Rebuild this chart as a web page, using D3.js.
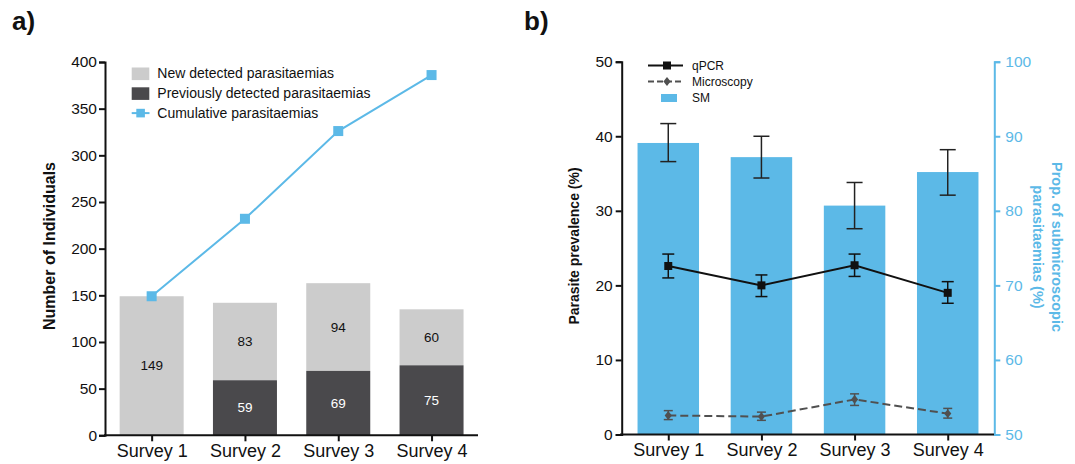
<!DOCTYPE html>
<html><head><meta charset="utf-8">
<script src="https://cdn.jsdelivr.net/npm/d3@7"></script>
<style>body{margin:0;background:#fff}svg{display:block;font-family:"Liberation Sans",Arial,sans-serif}</style>
</head><body>
<svg id="c" width="1075" height="464"></svg>
<script>
// ---- Data ----
const categories = ["Survey 1","Survey 2","Survey 3","Survey 4"];
// Panel a
const newDetected = [149, 83, 94, 60];
const prevDetected = [0, 59, 69, 75];
const cumulative = [149, 232, 326, 386];
const ticksA = [0,50,100,150,200,250,300,350,400];
// Panel b
const smValues = [89.1, 87.2, 80.7, 85.2];
const smLow = [86.6, 84.4, 77.6, 82.1];
const smHigh = [91.7, 90.0, 83.8, 88.2];
const qpcr = [22.6, 20.0, 22.7, 19.0];
const qpcrLow = [21.0, 18.5, 21.2, 17.6];
const qpcrHigh = [24.2, 21.4, 24.2, 20.5];
const micro = [2.55, 2.4, 4.7, 2.8];
const microLow = [2.0, 1.9, 3.9, 2.2];
const microHigh = [3.2, 3.0, 5.45, 3.5];
const ticksL = [0,10,20,30,40,50];
const ticksR = [50,60,70,80,90,100];

const BLUE = "#5cb9e7", LGRAY = "#cccccc", DGRAY = "#4a494c", MGRAY = "#505050";
const FONT = "Liberation Sans, Arial, sans-serif";
const svg = d3.select("#c");

const diamond = { draw(ctx, size) { const w = 3.6, h = 4.4; ctx.moveTo(0,-h); ctx.lineTo(w,0); ctx.lineTo(0,h); ctx.lineTo(-w,0); ctx.closePath(); } };

// ================= Panel a =================
const xA = d3.scalePoint().domain(categories).range([105, 478.2]).padding(0.5);
const yA = d3.scaleLinear().domain([0, 400]).range([435.3, 62]);
const bwA = xA.step() * 0.686;
const gA = svg.append("g");

gA.selectAll("rect.new").data(categories).join("rect")
  .attr("x", d => xA(d) - bwA/2).attr("width", bwA)
  .attr("y", (d,i) => yA(prevDetected[i] + newDetected[i]))
  .attr("height", (d,i) => yA(prevDetected[i]) - yA(prevDetected[i] + newDetected[i]))
  .attr("fill", LGRAY);
gA.selectAll("rect.prev").data(categories).join("rect")
  .attr("x", d => xA(d) - bwA/2).attr("width", bwA)
  .attr("y", (d,i) => yA(prevDetected[i]))
  .attr("height", (d,i) => yA(0) - yA(prevDetected[i]))
  .attr("fill", DGRAY);

categories.forEach((c,i) => {
  gA.append("text").attr("x", xA(c)).attr("y", yA(prevDetected[i] + newDetected[i]/2)).attr("dy","0.35em")
    .attr("text-anchor","middle").attr("font-size",13.5).attr("fill","#111").text(newDetected[i]);
  if (prevDetected[i] > 0)
    gA.append("text").attr("x", xA(c)).attr("y", yA(prevDetected[i]/2)).attr("dy","0.35em")
      .attr("text-anchor","middle").attr("font-size",13.5).attr("fill","#fff").text(prevDetected[i]);
});

gA.append("path").datum(cumulative)
  .attr("d", d3.line().x((d,i) => xA(categories[i])).y(d => yA(d)))
  .attr("fill","none").attr("stroke", BLUE).attr("stroke-width", 2);
gA.selectAll("rect.cum").data(cumulative).join("rect")
  .attr("x",(d,i)=>xA(categories[i])-5).attr("y",d=>yA(d)-5).attr("width",10).attr("height",10).attr("fill",BLUE);

const axA = gA.append("g").attr("transform","translate(105,0)")
  .call(d3.axisLeft(yA).tickValues(ticksA).tickSize(6).tickPadding(2));
const axAx = gA.append("g").attr("transform",`translate(0,${yA(0)})`)
  .call(d3.axisBottom(xA).tickSize(6).tickPadding(3));
[axA, axAx].forEach(a => {
  a.select(".domain").attr("stroke","#111").attr("stroke-width",2);
  a.selectAll(".tick line").attr("stroke","#111").attr("stroke-width",2);
  a.selectAll("text").attr("fill","#111").attr("font-family",FONT);
});
axA.selectAll("text").attr("font-size",15.5);
axAx.selectAll("text").attr("font-size",18);
axAx.select(".domain").attr("d","M104,0H478");

gA.append("text").attr("transform","translate(55,246) rotate(-90)").attr("text-anchor","middle")
  .attr("font-size",16).attr("font-weight","bold").attr("fill","#111").text("Number of Individuals");

const legA = [["New detected parasitaemias","box",LGRAY],["Previously detected parasitaemias","box",DGRAY],["Cumulative parasitaemias","line",BLUE]];
legA.forEach((l,i) => {
  const y = 73.5 + i*19.8;
  if (l[1]==="box") gA.append("rect").attr("x",131.7).attr("y",y-6).attr("width",17.6).attr("height",12.6).attr("fill",l[2]);
  else {
    gA.append("line").attr("x1",131.7).attr("x2",149.5).attr("y1",y).attr("y2",y).attr("stroke",l[2]).attr("stroke-width",2);
    gA.append("rect").attr("x",136.3).attr("y",y-4.3).attr("width",8.6).attr("height",8.6).attr("fill",l[2]);
  }
  gA.append("text").attr("x",157.3).attr("y",y).attr("dy","0.35em").attr("font-size",14).attr("fill","#111").text(l[0]);
});
svg.append("text").attr("x",12).attr("y",30).attr("font-size",26).attr("font-weight","bold").attr("fill","#111").text("a)");

// ================= Panel b =================
const xB = d3.scalePoint().domain(categories).range([621.7, 994.3]).padding(0.5);
const yB = d3.scaleLinear().domain([0, 50]).range([434.5, 61.7]);
const yR = d3.scaleLinear().domain([50, 100]).range([434.5, 61.7]);
const bwB = xB.step() * 0.66;
const gB = svg.append("g");

gB.selectAll("rect.sm").data(smValues).join("rect")
  .attr("x",(d,i)=>xB(categories[i])-bwB/2).attr("width",bwB)
  .attr("y",d=>yR(d)).attr("height",d=>yR(50)-yR(d)).attr("fill",BLUE);

function errBars(lo, hi, scale, cap, color, sw) {
  categories.forEach((c,i) => {
    const x = xB(c);
    gB.append("line").attr("x1",x).attr("x2",x).attr("y1",scale(lo[i])).attr("y2",scale(hi[i])).attr("stroke",color).attr("stroke-width",sw);
    [lo[i],hi[i]].forEach(v => gB.append("line").attr("x1",x-cap/2).attr("x2",x+cap/2).attr("y1",scale(v)).attr("y2",scale(v)).attr("stroke",color).attr("stroke-width",sw));
  });
}
errBars(smLow, smHigh, yR, 16, "#222", 1.5);

gB.append("path").datum(micro).attr("d", d3.line().x((d,i)=>xB(categories[i])).y(d=>yB(d)))
  .attr("fill","none").attr("stroke",MGRAY).attr("stroke-width",2).attr("stroke-dasharray","8,4");
errBars(microLow, microHigh, yB, 9, MGRAY, 1.5);
gB.selectAll("path.md").data(micro).join("path")
  .attr("d", d3.symbol().type(diamond))
  .attr("transform",(d,i)=>`translate(${xB(categories[i])},${yB(d)})`).attr("fill",MGRAY);

gB.append("path").datum(qpcr).attr("d", d3.line().x((d,i)=>xB(categories[i])).y(d=>yB(d)))
  .attr("fill","none").attr("stroke","#111").attr("stroke-width",2);
errBars(qpcrLow, qpcrHigh, yB, 12, "#111", 1.5);
gB.selectAll("rect.q").data(qpcr).join("rect")
  .attr("x",(d,i)=>xB(categories[i])-4).attr("y",d=>yB(d)-4).attr("width",8).attr("height",8).attr("fill","#111");

const axL = gB.append("g").attr("transform","translate(621.7,0)")
  .call(d3.axisLeft(yB).tickValues(ticksL).tickSize(6).tickPadding(3));
const axR = gB.append("g").attr("transform","translate(994.3,0)")
  .call(d3.axisRight(yR).tickValues(ticksR).tickSize(6).tickPadding(5));
const axBx = gB.append("g").attr("transform",`translate(0,${yB(0)})`)
  .call(d3.axisBottom(xB).tickSize(6).tickPadding(3));
[axL, axBx].forEach(a => {
  a.select(".domain").attr("stroke","#111").attr("stroke-width",2);
  a.selectAll(".tick line").attr("stroke","#111").attr("stroke-width",2);
  a.selectAll("text").attr("fill","#111").attr("font-family",FONT);
});
axR.select(".domain").attr("stroke",BLUE).attr("stroke-width",2);
axR.selectAll(".tick line").attr("stroke",BLUE).attr("stroke-width",2);
axR.selectAll("text").attr("fill",BLUE).attr("font-family",FONT).attr("font-size",15.5);
axL.selectAll("text").attr("font-size",15.5);
axBx.selectAll("text").attr("font-size",18);
axBx.select(".domain").attr("d","M620,0H994");

gB.append("text").attr("transform","translate(579,246) rotate(-90)").attr("text-anchor","middle")
  .attr("font-size",14).attr("font-weight","bold").attr("fill","#111").text("Parasite prevalence (%)");
const rl = gB.append("text").attr("transform","translate(1052,247) rotate(90)").attr("text-anchor","middle")
  .attr("font-size",14.5).attr("font-weight","bold").attr("fill",BLUE);
rl.append("tspan").attr("x",0).attr("y",0).text("Prop. of submicroscopic");
rl.append("tspan").attr("x",0).attr("y",19).text("parasitaemias (%)");

// legend b
gB.append("line").attr("x1",648).attr("x2",683).attr("y1",65.5).attr("y2",65.5).attr("stroke","#111").attr("stroke-width",2);
gB.append("rect").attr("x",663).attr("y",61.5).attr("width",8).attr("height",8).attr("fill","#111");
gB.append("text").attr("x",692).attr("y",65.5).attr("dy","0.35em").attr("font-size",12).attr("fill","#111").text("qPCR");
gB.append("line").attr("x1",648).attr("x2",684).attr("y1",81.5).attr("y2",81.5).attr("stroke",MGRAY).attr("stroke-width",2).attr("stroke-dasharray","6,3");
gB.append("path").attr("d", d3.symbol().type(diamond)).attr("transform","translate(667,81.5)").attr("fill",MGRAY);
gB.append("text").attr("x",692).attr("y",81.5).attr("dy","0.35em").attr("font-size",12).attr("fill","#111").text("Microscopy");
gB.append("rect").attr("x",661).attr("y",94).attr("width",16).attr("height",8).attr("fill",BLUE);
gB.append("text").attr("x",692).attr("y",98).attr("dy","0.35em").attr("font-size",12).attr("fill","#111").text("SM");

svg.append("text").attr("x",524).attr("y",30).attr("font-size",26).attr("font-weight","bold").attr("fill","#111").text("b)");
</script>
</body></html>
